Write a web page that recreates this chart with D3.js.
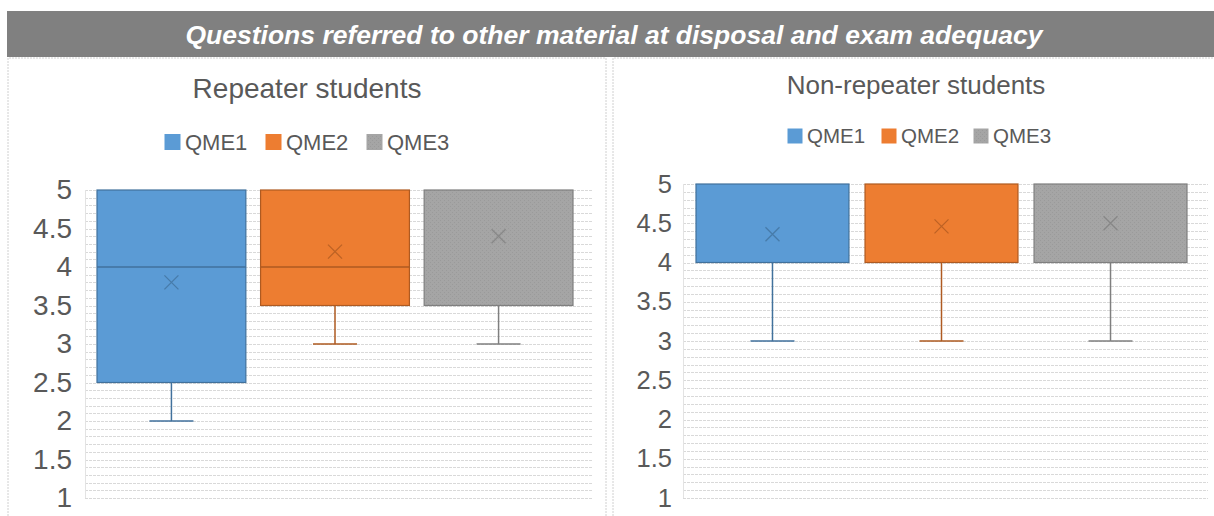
<!DOCTYPE html>
<html>
<head>
<meta charset="utf-8">
<script src="https://cdn.jsdelivr.net/npm/d3@7"></script>
<style>
  body { margin: 0; background: #fff; }
  svg { display: block; font-family: "Liberation Sans", Arial, sans-serif; }
</style>
</head>
<body>
<svg id="chart" width="1214" height="516"></svg>
<script>
const mainTitle = "Questions referred to other material at disposal and exam adequacy";
const categories = ["QME1", "QME2", "QME3"];
const yTicks = [1, 1.5, 2, 2.5, 3, 3.5, 4, 4.5, 5];

// repeater students: [min, q1, median, q3, max]
const repeaterStats = [
  [2, 2.5, 4, 5, 5],
  [3, 3.5, 4, 5, 5],
  [3, 3.5, 5, 5, 5]
];
const repeaterMeans = [3.8, 4.2, 4.4];

// non-repeater students
const nonRepeaterStats = [
  [3, 4, 5, 5, 5],
  [3, 4, 5, 5, 5],
  [3, 4, 5, 5, 5]
];
const nonRepeaterMeans = [4.36, 4.46, 4.5];

const fills = ["#5b9bd5", "#ed7d31", "url(#dots)"];
const strokes = ["#41719c", "#ae5a21", "#7f7f7f"];
const swatch = ["#5b9bd5", "#ed7d31", "#a5a5a5"];

const svg = d3.select("#chart");

const defs = svg.append("defs");
const pat = defs.append("pattern")
  .attr("id", "dots").attr("width", 4).attr("height", 4)
  .attr("patternUnits", "userSpaceOnUse");
pat.append("rect").attr("width", 4).attr("height", 4).attr("fill", "#a5a5a5");
pat.append("rect").attr("x", 0).attr("y", 0).attr("width", 1).attr("height", 1).attr("fill", "#9a9a9a");
pat.append("rect").attr("x", 2).attr("y", 2).attr("width", 1).attr("height", 1).attr("fill", "#9a9a9a");

// title bar
svg.append("rect").attr("x", 7).attr("y", 11).attr("width", 1207).attr("height", 46).attr("fill", "#808080");
svg.append("text").attr("x", 614).attr("y", 44).attr("text-anchor", "middle")
  .attr("fill", "#fff").attr("font-size", 26.5).attr("font-weight", "bold").attr("font-style", "italic")
  .text(mainTitle);

// panel borders
[[8, 606], [613, 1214]].forEach(([a, b]) => {
  svg.append("path")
    .attr("d", `M${a},516 V58 H${b}` + (b < 1214 ? ` V516` : ""))
    .attr("fill", "none").attr("stroke", "#d0d0d0").attr("stroke-dasharray", "2,1");
});

function drawPanel(opt) {
  const g = svg.append("g");
  const y = d3.scaleLinear().domain([1, 5]).range([opt.yBottom, opt.yTop]);
  const x = d3.scaleBand().domain(categories).range(opt.boxRange).paddingInner(opt.pad).paddingOuter(0);

  // minor gridlines every 0.1
  const grid = d3.range(10, 51).map(v => v / 10);
  g.selectAll("line.grid").data(grid).join("line")
    .attr("x1", opt.gridRange[0]).attr("x2", opt.gridRange[1])
    .attr("y1", d => Math.round(y(d)) + 0.5).attr("y2", d => Math.round(y(d)) + 0.5)
    .attr("stroke", "#d9d9d9").attr("stroke-dasharray", "3,1");
  g.append("line")
    .attr("x1", opt.gridRange[0] + 0.5).attr("x2", opt.gridRange[0] + 0.5)
    .attr("y1", y(5)).attr("y2", y(1))
    .attr("stroke", "#e3e3e3");

  // y axis labels
  const axis = d3.axisLeft(y).tickValues(yTicks).tickSize(0).tickPadding(0).tickFormat(d3.format("~g"));
  const ag = g.append("g").attr("transform", `translate(${opt.labelX},0)`).call(axis);
  ag.select(".domain").remove();
  ag.selectAll("text").attr("font-size", opt.tickSize).attr("fill", "#595959")
    .attr("font-family", "'Liberation Sans', Arial, sans-serif");

  // boxes
  opt.stats.forEach((s, i) => {
    const c = categories[i];
    const x0 = x(c), bw = x.bandwidth(), cx = x0 + bw / 2;
    const [mn, q1, med, q3, mx] = s;
    if (mn < q1) {
      g.append("line").attr("x1", cx).attr("x2", cx).attr("y1", y(q1)).attr("y2", y(mn))
        .attr("stroke", strokes[i]).attr("stroke-width", 1.5);
      g.append("line").attr("x1", cx - 22).attr("x2", cx + 22).attr("y1", y(mn)).attr("y2", y(mn))
        .attr("stroke", strokes[i]).attr("stroke-width", 1.5);
    }
    if (mx > q3) {
      g.append("line").attr("x1", cx).attr("x2", cx).attr("y1", y(q3)).attr("y2", y(mx))
        .attr("stroke", strokes[i]).attr("stroke-width", 1.5);
    }
    g.append("rect").attr("x", x0).attr("y", y(q3)).attr("width", bw).attr("height", y(q1) - y(q3))
      .attr("fill", fills[i]).attr("stroke", strokes[i]).attr("stroke-width", 1.2);
    if (med < q3 && med > q1) {
      g.append("line").attr("x1", x0).attr("x2", x0 + bw).attr("y1", y(med)).attr("y2", y(med))
        .attr("stroke", strokes[i]).attr("stroke-width", 1.5);
    }
    const m = opt.means[i], my = y(m), r = 7;
    g.append("path")
      .attr("d", `M${cx - r},${my - r}L${cx + r},${my + r}M${cx - r},${my + r}L${cx + r},${my - r}`)
      .attr("stroke", strokes[i]).attr("stroke-width", 1.3).attr("opacity", 0.75);
  });

  // title
  g.append("text").attr("x", opt.titleX).attr("y", opt.titleY).attr("text-anchor", "middle")
    .attr("font-size", opt.titleSize).attr("fill", "#595959").text(opt.title);

  // legend
  opt.legendX.forEach((lx, i) => {
    g.append("rect").attr("x", lx).attr("y", opt.legendY - opt.sw / 2).attr("width", opt.sw).attr("height", opt.sw)
      .attr("fill", i === 2 ? "url(#dots)" : swatch[i]).attr("stroke", i === 2 ? "#a5a5a5" : swatch[i]);
    g.append("text").attr("x", lx + opt.sw + 5).attr("y", opt.legendY).attr("dy", "0.36em")
      .attr("font-size", opt.legendSize).attr("fill", "#595959").text(categories[i]);
  });
}

drawPanel({
  stats: repeaterStats, means: repeaterMeans,
  yTop: 190, yBottom: 498,
  boxRange: [97, 573], pad: 0.09, gridRange: [85, 593],
  labelX: 72, tickSize: 28,
  title: "Repeater students", titleX: 307, titleY: 98, titleSize: 28,
  legendX: [165, 266, 367], legendY: 142, sw: 15, legendSize: 22
});

drawPanel({
  stats: nonRepeaterStats, means: nonRepeaterMeans,
  yTop: 184, yBottom: 498,
  boxRange: [696, 1187], pad: 0.095, gridRange: [683, 1208],
  labelX: 672, tickSize: 25.5,
  title: "Non-repeater students", titleX: 916, titleY: 94, titleSize: 26,
  legendX: [788, 882, 974], legendY: 136, sw: 14, legendSize: 20.5
});
</script>
</body>
</html>
